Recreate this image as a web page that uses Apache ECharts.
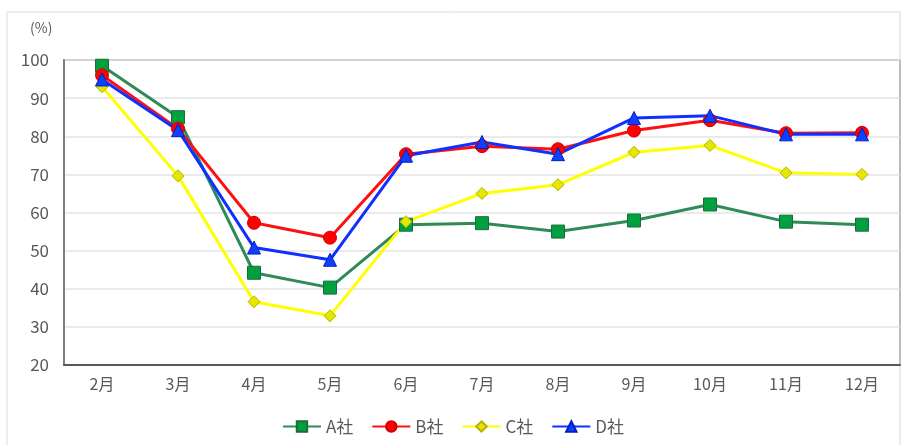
<!DOCTYPE html>
<html>
<head>
<meta charset="utf-8">
<script src="https://cdn.jsdelivr.net/npm/echarts@6/dist/echarts.min.js"></script>
<style>
  html, body { margin: 0; padding: 0; background: #fff; }
  #chart { width: 906px; height: 445px; }
</style>
</head>
<body>
<div id="chart"></div>
<script>
// Monthly rates (%) for four companies, February to December
const months = ['2月', '3月', '4月', '5月', '6月', '7月', '8月', '9月', '10月', '11月', '12月'];
const companyA = [98.5, 85.0, 44.2, 40.3, 56.8, 57.2, 55.0, 57.9, 62.1, 57.6, 56.8];
const companyB = [96.0, 82.0, 57.3, 53.4, 75.3, 77.4, 76.6, 81.5, 84.2, 80.8, 80.9];
const companyC = [93.0, 69.6, 36.6, 32.9, 57.6, 65.0, 67.3, 75.8, 77.6, 70.4, 70.0];
const companyD = [94.9, 81.6, 50.8, 47.6, 74.9, 78.5, 75.3, 84.8, 85.4, 80.5, 80.5];
const seriesNames = ['A社', 'B社', 'C社', 'D社'];
const yTicks = { min: 20, max: 100, step: 10 };

const font = '"Noto Sans CJK JP", "Noto Sans", sans-serif';
const chart = echarts.init(document.getElementById('chart'), null, { renderer: 'canvas' });

function lineSeries(name, data, lineColor, fill, border, symbol, size) {
  return {
    name: name,
    type: 'line',
    data: data,
    symbol: symbol,
    symbolSize: size,
    showAllSymbol: true,
    lineStyle: { color: lineColor, width: 3 },
    itemStyle: { color: fill, borderColor: border, borderWidth: 1 },
    emphasis: { disabled: true },
    animation: false
  };
}

chart.setOption({
  backgroundColor: '#ffffff',
  animation: false,
  graphic: [{
    type: 'rect',
    shape: { x: 7, y: 12, width: 893, height: 440 },
    style: { fill: 'none', stroke: '#d9d9d9', lineWidth: 1 },
    silent: true
  }, {
    type: 'text',
    left: 30, top: 21,
    style: { text: '(%)', fill: '#595959', font: '14px ' + font }
  }],
  grid: {
    left: 64, top: 60, right: 6, bottom: 80,
    show: true, borderColor: '#7f7f7f', borderWidth: 1.5, backgroundColor: 'transparent'
  },
  legend: {
    data: seriesNames,
    bottom: 5,
    left: 'center',
    itemWidth: 38,
    itemHeight: 13,
    itemGap: 18,
    textStyle: { fontSize: 17, color: '#595959', fontFamily: font }
  },
  xAxis: {
    type: 'category',
    data: months,
    boundaryGap: true,
    axisLine: { lineStyle: { color: '#595959', width: 2 } },
    axisTick: { show: false },
    axisLabel: { color: '#595959', fontSize: 16, fontFamily: font, margin: 11 }
  },
  yAxis: {
    type: 'value',
    min: yTicks.min,
    max: yTicks.max,
    interval: yTicks.step,
    axisLine: { show: true, lineStyle: { color: '#7f7f7f', width: 2 } },
    axisTick: { show: false },
    axisLabel: { color: '#595959', fontSize: 17, fontFamily: font, margin: 15 },
    splitLine: { lineStyle: { color: '#e3e3e3', width: 1.5 } }
  },
  series: [
    lineSeries(seriesNames[0], companyA, '#2e8b57', '#00a040', '#1d6b3a', 'rect', 13),
    lineSeries(seriesNames[1], companyB, '#ff1010', '#ff0000', '#d00000', 'circle', 13),
    lineSeries(seriesNames[2], companyC, '#ffff00', '#e6e600', '#b3b300', 'diamond', 12),
    lineSeries(seriesNames[3], companyD, '#1030ff', '#1040ff', '#0020c0', 'triangle', 13)
  ]
});
</script>
</body>
</html>
